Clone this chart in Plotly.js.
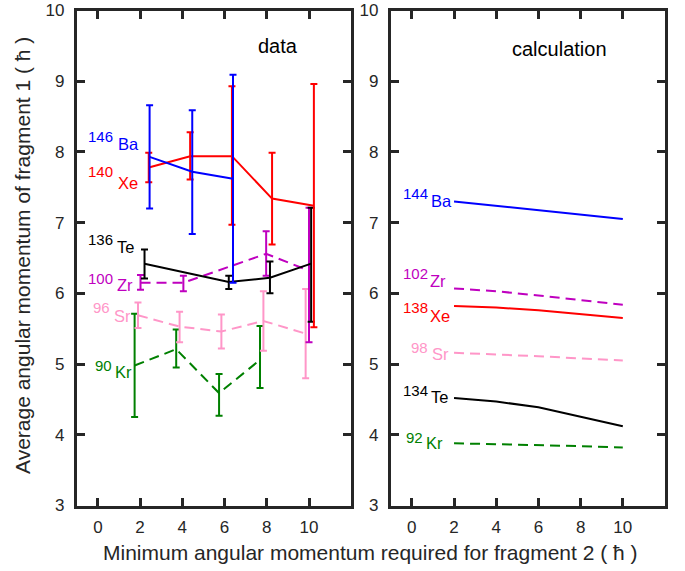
<!DOCTYPE html>
<html>
<head>
<meta charset="utf-8">
<script src="https://cdn.plot.ly/plotly-3.0.1.min.js"></script>
<style>html,body{margin:0;padding:0;background:#fff;}#chart{width:685px;height:571px;}</style>
</head>
<body>
<div id="chart"></div>
<script>
// ---- measured data (left panel) ----
const baX = [2.45, 4.47, 6.40];
const baY = [7.93, 7.72, 7.62];
const baEp = [0.73, 0.87, 1.47];
const baEm = [0.73, 0.88, 1.47];

const xeX = [2.41, 4.37, 6.35, 8.25, 10.23];
const xeY = [7.78, 7.94, 7.94, 7.34, 7.24];
const xeEp = [0.21, 0.34, 0.99, 0.65, 1.72];
const xeEm = [0.21, 0.33, 0.97, 0.65, 1.72];

const teX = [2.21, 6.20, 8.15, 10.10];
const teY = [6.42, 6.16, 6.22, 6.42];
const teEp = [0.20, 0.09, 0.23, 0.79];
const teEm = [0.21, 0.10, 0.22, 0.82];

const zrX = [2.02, 4.05, 7.97, 10.00];
const zrY = [6.15, 6.15, 6.56, 6.32];
const zrEp = [0.11, 0.10, 0.32, 0.89];
const zrEm = [0.10, 0.12, 0.31, 1.01];

const srX = [1.90, 3.87, 5.85, 7.84, 9.84];
const srY = [5.69, 5.53, 5.46, 5.61, 5.43];
const srEp = [0.18, 0.21, 0.24, 0.42, 0.63];
const srEm = [0.18, 0.22, 0.24, 0.42, 0.63];

const krX = [1.74, 3.71, 5.74, 7.68];
const krY = [4.98, 5.21, 4.59, 5.06];
const krEp = [0.73, 0.28, 0.27, 0.48];
const krEm = [0.73, 0.26, 0.32, 0.40];

// ---- calculation (right panel) ----
const calcX = [2, 4, 6, 8, 10];
const cBa = [7.30, 7.24, 7.17, 7.11, 7.05];
const cZr = [6.07, 6.03, 5.97, 5.90, 5.84];
const cXe = [5.82, 5.80, 5.76, 5.71, 5.65];
const cSr = [5.16, 5.14, 5.11, 5.08, 5.05];
const cTe = [4.52, 4.47, 4.39, 4.26, 4.12];
const cKr = [3.88, 3.87, 3.85, 3.84, 3.82];

const tickVals = [0, 2, 4, 6, 8, 10];
const yTickVals = [3, 4, 5, 6, 7, 8, 9, 10];

const C = {
  ba: '#0000ff', xe: '#ff0000', te: '#000000',
  zr: '#bf00bf', sr: '#ff96c8', kr: '#008000'
};
const FONT = 'Liberation Sans, Arial, Helvetica, sans-serif';
const AX = '#262626';
const DASH = '10px,6px';

function dataTrace(x, y, ep, em, color, dash) {
  return {
    x: x, y: y, type: 'scatter', mode: 'lines',
    xaxis: 'x', yaxis: 'y',
    line: {color: color, width: 2, dash: dash || 'solid'},
    error_y: {type: 'data', symmetric: false, array: ep, arrayminus: em,
              color: color, thickness: 2, width: 3.5},
    hoverinfo: 'skip', showlegend: false
  };
}
function calcTrace(y, color, dash) {
  return {
    x: calcX, y: y, type: 'scatter', mode: 'lines',
    xaxis: 'x2', yaxis: 'y2',
    line: {color: color, width: 2, dash: dash || 'solid'},
    hoverinfo: 'skip', showlegend: false
  };
}

const traces = [
  dataTrace(krX, krY, krEp, krEm, C.kr, DASH),
  dataTrace(srX, srY, srEp, srEm, C.sr, DASH),
  dataTrace(zrX, zrY, zrEp, zrEm, C.zr, DASH),
  dataTrace(teX, teY, teEp, teEm, C.te),
  dataTrace(xeX, xeY, xeEp, xeEm, C.xe),
  dataTrace(baX, baY, baEp, baEm, C.ba),
  calcTrace(cBa, C.ba),
  calcTrace(cZr, C.zr, DASH),
  calcTrace(cXe, C.xe),
  calcTrace(cSr, C.sr, DASH),
  calcTrace(cTe, C.te),
  calcTrace(cKr, C.kr, DASH)
];

const W = 685, H = 571;
const px = v => v / W;
const py = v => 1 - v / H;

// isotope labels: [mass, symbol, color, numRightPx, numCenterYPx, symLeftPx, symCenterYPx]
const labels = [
  ['146', 'Ba', C.ba, 114, 136, 116.5, 144],
  ['140', 'Xe', C.xe, 114, 172, 116.5, 182.5],
  ['136', 'Te', C.te, 114, 239.5, 115.5, 246.5],
  ['100', 'Zr', C.zr, 114, 278, 115.5, 285],
  ['96', 'Sr', C.sr, 111, 307.5, 112.5, 315.5],
  ['90', 'Kr', C.kr, 113, 365, 113.5, 371.5],
  ['144', 'Ba', C.ba, 429, 193.5, 429.5, 201.5],
  ['102', 'Zr', C.zr, 429, 273, 428.5, 280.5],
  ['138', 'Xe', C.xe, 429, 307, 428.5, 315.5],
  ['98', 'Sr', C.sr, 429, 347, 430.5, 353.5],
  ['134', 'Te', C.te, 429, 390, 429.5, 397],
  ['92', 'Kr', C.kr, 424, 437, 424.5, 442.5]
];

const annotations = [];
labels.forEach(l => {
  annotations.push({xref: 'paper', yref: 'paper', x: px(l[3]), y: py(l[4]),
    xanchor: 'right', yanchor: 'middle', text: l[0], showarrow: false,
    font: {family: FONT, size: 15, color: l[2]}, borderpad: 0});
  annotations.push({xref: 'paper', yref: 'paper', x: px(l[5]), y: py(l[6]),
    xanchor: 'left', yanchor: 'middle', text: l[1], showarrow: false,
    font: {family: FONT, size: 16.5, color: l[2]}, borderpad: 0});
});
annotations.push({xref: 'paper', yref: 'paper', x: px(277.5), y: py(46), text: 'data',
  showarrow: false, xanchor: 'center', yanchor: 'middle',
  font: {family: FONT, size: 20, color: '#000'}});
annotations.push({xref: 'paper', yref: 'paper', x: px(559.5), y: py(49), text: 'calculation',
  showarrow: false, xanchor: 'center', yanchor: 'middle',
  font: {family: FONT, size: 20, color: '#000'}});
annotations.push({xref: 'paper', yref: 'paper', x: px(370.5), y: py(552),
  text: 'Minimum angular momentum required for fragment 2 ( ħ )',
  showarrow: false, xanchor: 'center', yanchor: 'middle',
  font: {family: FONT, size: 21, color: AX}});
annotations.push({xref: 'paper', yref: 'paper', x: px(22), y: py(256),
  text: 'Average angular momentum of fragment 1 ( ħ )', textangle: -90,
  showarrow: false, xanchor: 'center', yanchor: 'middle',
  font: {family: FONT, size: 21, color: AX}});

function xAxis(d0, d1, anchor) {
  return {
    domain: [px(d0), px(d1)], anchor: anchor,
    range: [-1, 12],
    tickmode: 'array', tickvals: tickVals, ticktext: tickVals.map(String),
    ticks: 'inside', ticklen: 8, tickwidth: 3, tickcolor: AX,
    showline: true, linewidth: 3, linecolor: AX, mirror: 'ticks',
    showgrid: false, zeroline: false, ticklabelstandoff: 4,
    tickfont: {family: FONT, size: 17, color: AX}, fixedrange: true
  };
}
function yAxis(anchor) {
  return {
    domain: [py(505.5), py(10.5)], anchor: anchor,
    range: [3, 10],
    tickmode: 'array', tickvals: yTickVals, ticktext: yTickVals.map(String),
    ticks: 'inside', ticklen: 8, tickwidth: 3, tickcolor: AX,
    showline: true, linewidth: 3, linecolor: AX, mirror: 'ticks',
    showgrid: false, zeroline: false, ticklabelstandoff: 6,
    tickfont: {family: FONT, size: 17, color: AX}, fixedrange: true
  };
}

const layout = {
  width: W, height: H,
  margin: {l: 0, r: 0, t: 0, b: 0},
  paper_bgcolor: '#ffffff', plot_bgcolor: '#ffffff',
  showlegend: false,
  xaxis: xAxis(76.75, 351.25, 'y'),
  yaxis: yAxis('x'),
  xaxis2: xAxis(390.75, 665, 'y2'),
  yaxis2: yAxis('x2'),
  annotations: annotations
};

Plotly.newPlot('chart', traces, layout, {displayModeBar: false, staticPlot: true});
</script>
</body>
</html>
